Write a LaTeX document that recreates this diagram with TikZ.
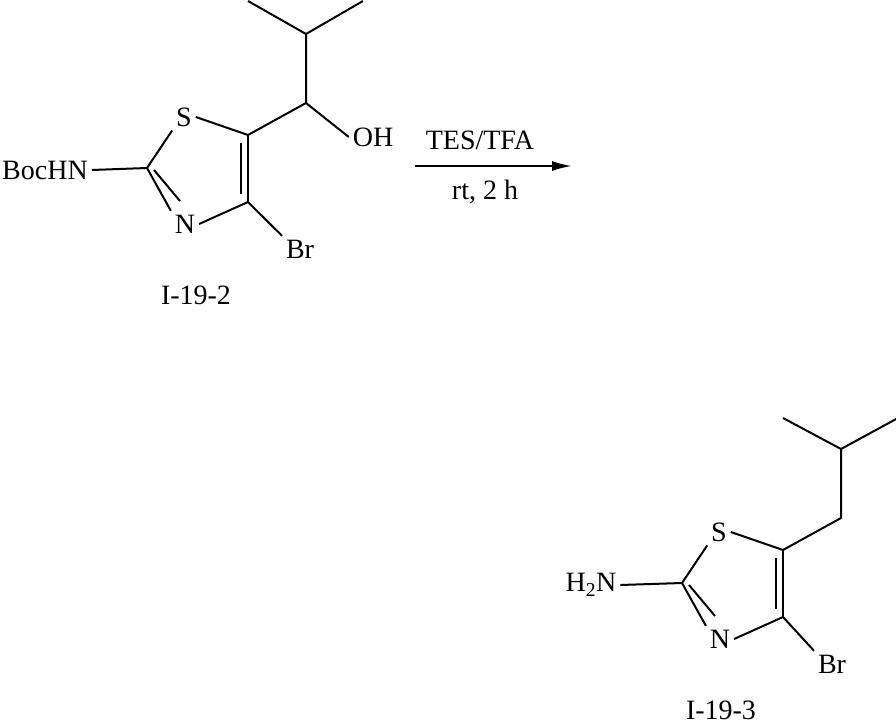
\documentclass[tikz,border=0pt]{standalone}
\usepackage{fontspec}
\usetikzlibrary{arrows.meta}
\setmainfont{Liberation Serif}
\begin{document}
\begin{tikzpicture}[x=1pt,y=-1pt,line width=2pt,
  lbl/.style={font=\fontsize{28}{30}\selectfont,inner sep=3pt},
  caption/.style={font=\fontsize{28}{30}\selectfont,inner sep=0pt}]
\useasboundingbox (0,0) rectangle (896,727);
\begin{scope}
\node[lbl] (boc) at (45,170) {BocHN};
\node[lbl] (s1) at (184,117) {S};
\node[lbl] (n1) at (185,224) {N};
\node[lbl] (br1) at (300,249) {Br};
\node[lbl] (oh) at (373,137) {OH};
\node[caption] (lab1) at (196,295) {I-19-2};
\coordinate (c2) at (147,168);
\coordinate (c5) at (248,135);
\coordinate (c4) at (248,202);
\coordinate (ch) at (306,103);
\coordinate (ct) at (306,34);
\coordinate (m1) at (248,1);
\coordinate (m2) at (363,1);
\draw (boc.east) -- (c2);
\draw (c2) -- (s1.south west);
\draw (s1.east) -- (c5);
\draw (c5) -- (c4);
\draw (241,143) -- (241,194);
\draw (c4) -- (n1.east);
\draw (c2) -- (n1.north west);
\draw (154,170) -- (180,201);
\draw (c4) -- (br1.north west);
\draw (c5) -- (ch) -- (oh.west);
\draw (ch) -- (ct) -- (m1);
\draw (ct) -- (m2);
\end{scope}
\node[caption] (tes) at (480,140) {TES/TFA};
\node[caption] (rt) at (485,192) {rt, 2 h};
\coordinate (a1) at (415,166);
\coordinate (a2) at (572,166);
\draw[-{Latex[length=20pt,width=10pt]}] (a1) -- (a2);
\begin{scope}[shift={(535,415)}]
\node[lbl] (h2n) at (56,170) {H\textsubscript{2}N};
\node[lbl] (s2) at (184,117) {S};
\node[lbl] (n2) at (185,224) {N};
\node[lbl] (br2) at (297,249) {Br};
\node[caption] (lab2) at (186,295) {I-19-3};
\coordinate (d2) at (147,168);
\coordinate (d5) at (248,135);
\coordinate (d4) at (248,202);
\coordinate (dh) at (306,103);
\coordinate (dt) at (306,34);
\coordinate (e1) at (248,3);
\coordinate (e2) at (363,3);
\draw (h2n.east) -- (d2);
\draw (d2) -- (s2.south west);
\draw (s2.east) -- (d5);
\draw (d5) -- (d4);
\draw (241,143) -- (241,194);
\draw (d4) -- (n2.east);
\draw (d2) -- (n2.north west);
\draw (154,170) -- (180,201);
\draw (d4) -- (br2.north west);
\draw (d5) -- (dh) -- (dt) -- (e1);
\draw (dt) -- (e2);
\end{scope}
\end{tikzpicture}
\end{document}
